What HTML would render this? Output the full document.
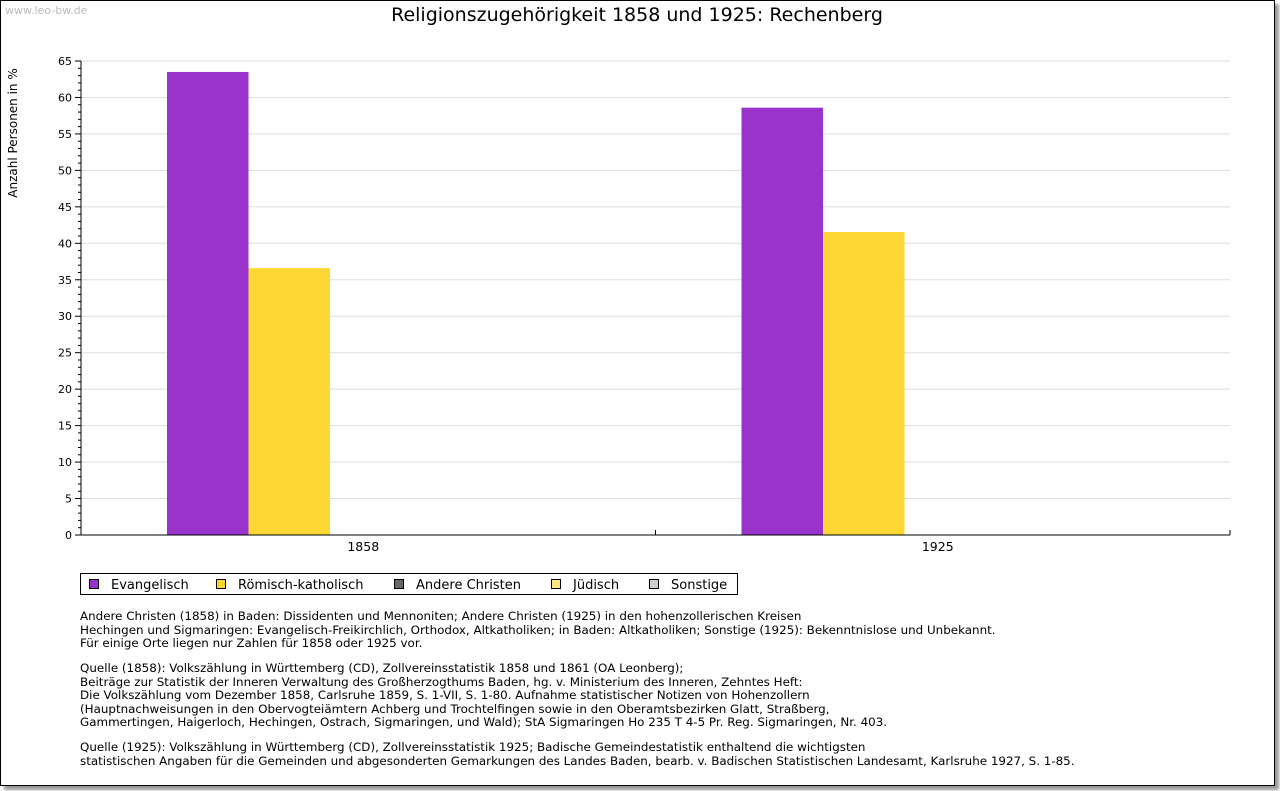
<!DOCTYPE html>
<html><head><meta charset="utf-8"><style>
body{margin:0;background:#fff;width:1280px;height:791px;overflow:hidden;font-family:"DejaVu Sans","Liberation Sans",sans-serif}
#frame{position:absolute;left:0;top:0;width:1273px;height:784px;border:1px solid #000;box-shadow:4px 4px 3px #999;background:#fff}
.notes{position:absolute;left:80px;font-size:11.9px;line-height:13.5px;color:#000;white-space:pre}
</style></head><body>
<div id="frame"></div>
<svg id="chart" width="1280" height="791" style="position:absolute;left:0;top:0"></svg>
<div class="notes" style="top:610px">Andere Christen (1858) in Baden: Dissidenten und Mennoniten; Andere Christen (1925) in den hohenzollerischen Kreisen
Hechingen und Sigmaringen: Evangelisch-Freikirchlich, Orthodox, Altkatholiken; in Baden: Altkatholiken; Sonstige (1925): Bekenntnislose und Unbekannt.
Für einige Orte liegen nur Zahlen für 1858 oder 1925 vor.</div>
<div class="notes" style="top:662px">Quelle (1858): Volkszählung in Württemberg (CD), Zollvereinsstatistik 1858 und 1861 (OA Leonberg);
Beiträge zur Statistik der Inneren Verwaltung des Großherzogthums Baden, hg. v. Ministerium des Inneren, Zehntes Heft:
Die Volkszählung vom Dezember 1858, Carlsruhe 1859, S. 1-VII, S. 1-80. Aufnahme statistischer Notizen von Hohenzollern
(Hauptnachweisungen in den Obervogteiämtern Achberg und Trochtelfingen sowie in den Oberamtsbezirken Glatt, Straßberg,
Gammertingen, Haigerloch, Hechingen, Ostrach, Sigmaringen, und Wald); StA Sigmaringen Ho 235 T 4-5 Pr. Reg. Sigmaringen, Nr. 403.</div>
<div class="notes" style="top:741px">Quelle (1925): Volkszählung in Württemberg (CD), Zollvereinsstatistik 1925; Badische Gemeindestatistik enthaltend die wichtigsten
statistischen Angaben für die Gemeinden und abgesonderten Gemarkungen des Landes Baden, bearb. v. Badischen Statistischen Landesamt, Karlsruhe 1927, S. 1-85.</div>
<script>
const categories=["1858","1925"];
const seriesNames=["Evangelisch","Römisch-katholisch","Andere Christen","Jüdisch","Sonstige"];
const seriesColors=["#9933cc","#fdd835","#666666","#ffe680","#cccccc"];
const evangelisch=[63.5,58.6];
const katholisch=[36.6,41.55];
const andere=[0,0];
const juedisch=[0,0];
const sonstige=[0,0];
const yTicks=[0,5,10,15,20,25,30,35,40,45,50,55,60,65];
const series=[evangelisch,katholisch,andere,juedisch,sonstige];
const NS="http://www.w3.org/2000/svg";
const svg=document.getElementById('chart');
const X0=81,X1=1230,Y0=535,Y1=61,YMAX=65;
const y=v=>Y0-(v/YMAX)*(Y0-Y1);
const gw=(X1-X0)/categories.length;
const bw=81.5;
function mk(t,a,txt){const e=document.createElementNS(NS,t);for(const k in a)e.setAttribute(k,a[k]);if(txt!==undefined)e.textContent=txt;svg.appendChild(e);return e;}
let e;
e=mk('text',{x:5,y:14,'font-size':11,fill:'#bbb'},'www.leo-bw.de');


e=mk('text',{x:637,y:21,'font-size':19,'text-anchor':'middle',fill:'#000'},'Religionszugehörigkeit 1858 und 1925: Rechenberg');


e=mk('text',{x:17,y:133,'font-size':12,'text-anchor':'middle',transform:'rotate(-90 17 133)'},'Anzahl Personen in %');


yTicks.forEach(t=>{
  if(t>0){e=mk('line',{x1:X0,x2:X1,y1:y(t),y2:y(t),stroke:'#ddd'});
  
  }
  e=mk('line',{x1:X0-6,x2:X0,y1:y(t),y2:y(t),stroke:'#000'});
  
  
  e=mk('text',{x:72,y:y(t)+4,'font-size':11,'text-anchor':'end'},String(t));
  
  
});
for(let v=1;v<YMAX;v++){if(v%5){e=mk('line',{x1:X0-3,x2:X0,y1:y(v),y2:y(v),stroke:'#000'});

}}
categories.forEach((c,i)=>{
  const gx=X0+i*gw;
  series.forEach((s,j)=>{
    if(s[i]>0){e=mk('rect',{x:gx+86+j*bw,y:y(s[i]),width:bw,height:Y0-y(s[i]),fill:seriesColors[j]});
    
    }
  });
  e=mk('text',{x:gx+gw/2-5,y:551,'font-size':12.5,'text-anchor':'middle'},c);
  
  
  e=mk('line',{x1:gx+gw,x2:gx+gw,y1:Y0-5,y2:Y0,stroke:'#000'});
  
  
});
e=mk('line',{x1:X0,x2:X0,y1:Y1,y2:Y0,stroke:'#000'});


e=mk('line',{x1:X0,x2:X1,y1:Y0,y2:Y0,stroke:'#000'});


e=mk('rect',{x:80.5,y:573.5,width:657,height:21,fill:'none',stroke:'#000'});


const lx=[89,216,394,551,649];
seriesNames.forEach((n,j)=>{
  e=mk('rect',{x:lx[j]+0.5,y:579.5,width:9,height:9,fill:seriesColors[j],stroke:'#000'});
  
  
  e=mk('text',{x:lx[j]+22,y:589,'font-size':13},n);
  
  
});
</script>
</body></html>
